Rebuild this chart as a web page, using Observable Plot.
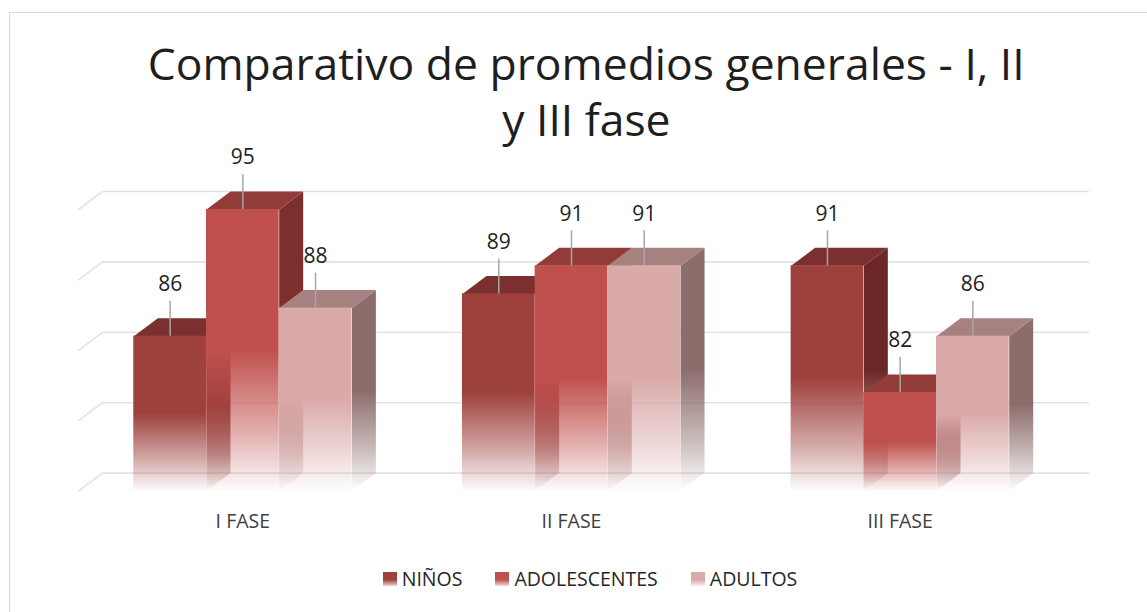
<!DOCTYPE html>
<html><head><meta charset="utf-8">
<script src="https://cdn.jsdelivr.net/npm/d3@7"></script>
<script src="https://cdn.jsdelivr.net/npm/@observablehq/plot@0.6"></script>
<style>
body{margin:0;background:#fff;font-family:"Open Sans",sans-serif;width:1147px;height:612px;overflow:hidden;position:relative}
#frame{position:absolute;left:9px;top:12px;width:1200px;height:700px;border-top:1.5px solid #D9D9D9;border-left:1.5px solid #D9D9D9;box-sizing:border-box}
.tl{position:absolute;left:0;width:1172px;text-align:center;font-size:44px;line-height:44px;color:#1e1e1e;white-space:nowrap}
.tl span{display:inline-block;transform-origin:center}
#chart{position:absolute;left:0;top:150px}
#legend{position:absolute;left:0;top:565px;width:1180px;display:flex;justify-content:center;gap:33px;font-size:19.5px;line-height:28px;color:#262626}
#legend .it{display:flex;align-items:center}
#legend .sw{display:inline-block;width:14px;height:14px;margin-right:5px}
</style></head><body>
<div id="frame"></div>
<div class="tl" id="t1" style="top:41px"><span>Comparativo de promedios generales - I, II</span></div>
<div class="tl" id="t2" style="top:97px"><span>y III fase</span></div>
<div id="chart"></div>
<div id="legend"></div>
<script>
const fases = ["I FASE", "II FASE", "III FASE"];
const series = ["NIÑOS", "ADOLESCENTES", "ADULTOS"];
const ninos = [86, 89, 91];
const adolescentes = [95, 91, 82];
const adultos = [88, 91, 86];
const gridValues = [75, 80, 85, 90, 95];
const frontColors = ["#9E413C", "#C0504D", "#DAAAA9"];
const topColors = ["#7B2F2E", "#913C39", "#A68180"];
const sideColors = ["#6A2726", "#7B302E", "#8C6D6C"];

const valuesBySeries = [ninos, adolescentes, adultos];
const W = 1147, H = 395, ML = 78, MR = 83, MT = 59, MB = 54.4;
const yMin = 75, yMax = 95;
const pxPerX = (W - ML - MR) / fases.length;
const pxPerY = (H - MT - MB) / (yMax - yMin);
const bw = 72.7 / pxPerX;
const ddx = 24 / pxPerX, ddy = 18 / pxPerY;
const ruleLen = 35 / pxPerY;

const bars = [];
series.forEach((s, si) => fases.forEach((f, gi) => {
  const v = valuesBySeries[si][gi];
  const x1 = gi + 0.5 + (si - 1.5) * bw;
  bars.push({serie: s, si, fase: f, gi, v, x1, x2: x1 + bw, xc: x1 + bw / 2});
}));

const sidePts = [], topPts = [];
bars.forEach((b, k) => {
  [[b.x2, yMin], [b.x2, b.v], [b.x2 + ddx, b.v + ddy], [b.x2 + ddx, yMin + ddy]]
    .forEach(([x, y]) => sidePts.push({id: k, si: b.si, x, y}));
  [[b.x1, b.v], [b.x2, b.v], [b.x2 + ddx, b.v + ddy], [b.x1 + ddx, b.v + ddy]]
    .forEach(([x, y]) => topPts.push({id: k, si: b.si, x, y}));
});
const gridPts = [];
gridValues.forEach(v => {
  [[0, v], [ddx, v + ddy], [fases.length + ddx, v + ddy]].forEach(([x, y]) => gridPts.push({v, x, y}));
});

const marks = [
  Plot.line(gridPts, {x: "x", y: "y", z: "v", stroke: "#E3E3E3", strokeWidth: 1.6})
];
series.forEach((s, si) => {
  marks.push(Plot.line(sidePts.filter(d => d.si === si), {x: "x", y: "y", z: "id", fill: `url(#gs${si})`, stroke: "none"}));
  marks.push(Plot.line(topPts.filter(d => d.si === si), {x: "x", y: "y", z: "id", fill: topColors[si], stroke: "none"}));
  marks.push(Plot.rect(bars.filter(d => d.si === si), {x1: "x1", x2: "x2", y1: () => yMin, y2: "v", fill: `url(#gf${si})`}));
});
marks.push(Plot.ruleX(bars, {x: "xc", y1: "v", y2: d => d.v + ruleLen, stroke: "#A6A6A6", strokeWidth: 1.5}));
marks.push(Plot.text(bars, {x: "xc", y: "v", text: d => String(d.v), dy: -52, fontSize: 21, fill: "#1e1e1e"}));
marks.push(Plot.text(fases, {x: (d, i) => i + 0.5, y: () => yMin, text: d => d, dy: 31, fontSize: 19.5, fill: "#404040"}));

const svg = Plot.plot({
  width: W, height: H,
  marginLeft: ML, marginRight: MR, marginTop: MT, marginBottom: MB,
  x: {domain: [0, fases.length], axis: null},
  y: {domain: [yMin, yMax], axis: null},
  style: {fontFamily: "'Open Sans', sans-serif", background: "transparent", overflow: "visible"},
  marks
});

const ns = "http://www.w3.org/2000/svg";
const defs = document.createElementNS(ns, "defs");
function grad(id, color, stops) {
  const g = document.createElementNS(ns, "linearGradient");
  g.setAttribute("id", id);
  g.setAttribute("x1", "0"); g.setAttribute("y1", "0");
  g.setAttribute("x2", "0"); g.setAttribute("y2", "1");
  stops.forEach(([o, op]) => {
    const st = document.createElementNS(ns, "stop");
    st.setAttribute("offset", o);
    st.setAttribute("stop-color", color);
    st.setAttribute("stop-opacity", op);
    g.appendChild(st);
  });
  defs.appendChild(g);
}
series.forEach((s, si) => {
  grad(`gf${si}`, frontColors[si], [[0, 1], [0.5, 1], [0.8, 0.45], [1, 0.02]]);
  grad(`gs${si}`, sideColors[si], [[0, 1], [0.5, 1], [0.8, 0.45], [1, 0.0]]);
});
svg.insertBefore(defs, svg.firstChild);
document.getElementById("chart").appendChild(svg);

const legend = document.getElementById("legend");
series.forEach((s, si) => {
  const it = document.createElement("div");
  it.className = "it";
  const sw = document.createElement("span");
  sw.className = "sw";
  sw.style.background = `linear-gradient(to bottom, ${frontColors[si]} 0%, ${frontColors[si]} 55%, ${frontColors[si]}33 100%)`;
  const tx = document.createElement("span");
  tx.textContent = s;
  it.appendChild(sw); it.appendChild(tx);
  legend.appendChild(it);
});

const s1 = document.querySelector("#t1 span");
const sc = 877 / s1.getBoundingClientRect().width;
document.querySelectorAll(".tl span").forEach(sp => sp.style.transform = `scaleX(${sc})`);
</script>
</body></html>
